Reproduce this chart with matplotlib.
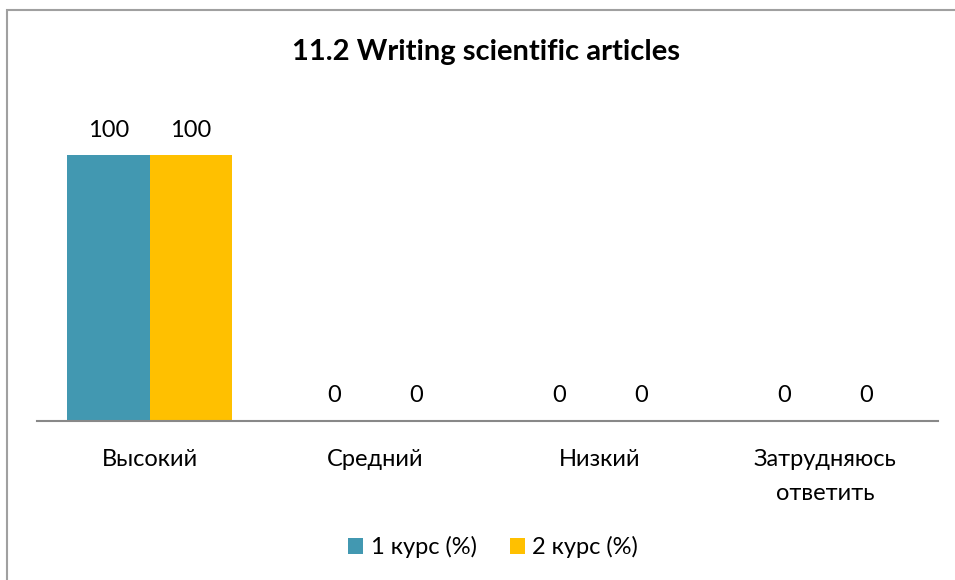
import matplotlib.pyplot as plt
import numpy as np
from matplotlib.patches import Rectangle

plt.rcParams['font.family'] = ['Lato', 'DejaVu Sans']

title = '11.2 Writing scientific articles'
categories = ['Высокий', 'Средний', 'Низкий', 'Затрудняюсь\nответить']
series_names = ['1 курс (%)', '2 курс (%)']
course1 = [100, 0, 0, 0]
course2 = [100, 0, 0, 0]
colors = ['#4298B1', '#FFC000']

fig = plt.figure(figsize=(9.55, 5.8), dpi=100)
W, H = 955, 580

# outer chart frame (top and left edges visible)
fig.add_artist(Rectangle((7 / W, -0.05), 1.1, (H - 10) / H + 0.05,
                         transform=fig.transFigure, fill=False,
                         edgecolor='#A0A0A0', linewidth=1.5))

ax = fig.add_axes([37 / W, 1 - 421 / H, 901 / W, (421 - 102) / H])
x = np.arange(len(categories))
bw = 0.365
b1 = ax.bar(x - bw / 2, course1, bw, color=colors[0], label=series_names[0])
b2 = ax.bar(x + bw / 2, course2, bw, color=colors[1], label=series_names[1])

for bars in (b1, b2):
    for rect in bars:
        v = rect.get_height()
        ax.annotate(f'{v:g}', (rect.get_x() + rect.get_width() / 2, v),
                    xytext=(0, 18), textcoords='offset points',
                    ha='center', va='center', fontsize=17)

ax.set_xlim(-0.5, len(categories) - 0.5)
ax.set_ylim(0, 120)
ax.set_yticks([])
ax.set_xticks(x)
ax.set_xticklabels(categories, fontsize=17, linespacing=1.75)
ax.tick_params(axis='x', length=0, pad=20)
for s in ('top', 'right', 'left'):
    ax.spines[s].set_visible(False)
ax.spines['bottom'].set_color('#888888')
ax.spines['bottom'].set_linewidth(1.5)

fig.text(486 / W, 1 - 52 / H, title, ha='center', va='center',
         fontsize=21, fontweight='bold')

fig.legend(loc='center', bbox_to_anchor=(493 / W, 1 - 547 / H), ncol=2,
           frameon=False, fontsize=17, handlelength=0.65, handleheight=0.65,
           handletextpad=0.3, columnspacing=1.4)

fig.savefig('out.png', dpi=100)
